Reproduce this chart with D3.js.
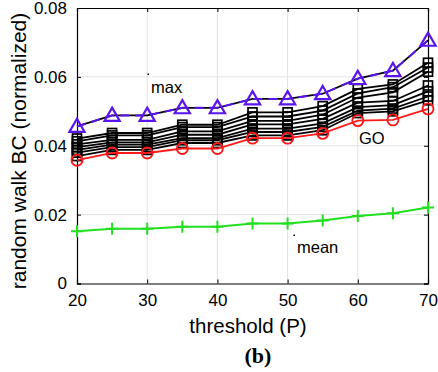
<!DOCTYPE html>
<html>
<head>
<meta charset="utf-8">
<script src="https://cdn.jsdelivr.net/npm/d3@7"></script>
<style>
  html, body { margin: 0; padding: 0; background: #fff; }
  svg { display: block; }
</style>
</head>
<body>
<svg id="chart" width="438" height="372"></svg>
<script>
// threshold values on the x axis
const thresholds = [20, 25, 30, 35, 40, 45, 50, 55, 60, 65, 70];

// maximum over all runs (triangles)
const maxSeries = [0.0456, 0.0488, 0.0488, 0.0510, 0.0510, 0.0536, 0.0536, 0.0551, 0.0595, 0.0618, 0.0706];
// GO ordering (circles)
const goSeries = [0.0358, 0.0379, 0.0379, 0.0392, 0.0392, 0.0422, 0.0422, 0.0436, 0.0473, 0.0475, 0.0507];
// mean over all runs (plus markers)
const meanSeries = [0.0152, 0.0159, 0.0159, 0.0165, 0.0165, 0.0174, 0.0174, 0.0183, 0.0196, 0.0204, 0.0221];
// individual orderings (squares)
const runA = [0.0421, 0.0437, 0.0437, 0.0461, 0.0461, 0.0497, 0.0497, 0.0515, 0.0565, 0.0578, 0.0641];
const runB = [0.0413, 0.0430, 0.0430, 0.0454, 0.0454, 0.0485, 0.0485, 0.0502, 0.0552, 0.0570, 0.0627];
const runC = [0.0404, 0.0417, 0.0417, 0.0442, 0.0442, 0.0472, 0.0472, 0.0490, 0.0540, 0.0555, 0.0615];
const runD = [0.0396, 0.0410, 0.0410, 0.0432, 0.0432, 0.0462, 0.0462, 0.0478, 0.0525, 0.0530, 0.0575];
const runE = [0.0388, 0.0403, 0.0403, 0.0422, 0.0422, 0.0450, 0.0450, 0.0465, 0.0512, 0.0518, 0.0558];
const runF = [0.0380, 0.0396, 0.0396, 0.0416, 0.0416, 0.0440, 0.0440, 0.0455, 0.0502, 0.0508, 0.0543];
const runG = [0.0370, 0.0388, 0.0388, 0.0408, 0.0408, 0.0430, 0.0430, 0.0445, 0.0495, 0.0500, 0.0532];
const squareRuns = [runA, runB, runC, runD, runE, runF, runG];

const xTicks = [20, 30, 40, 50, 60, 70];
const yTicks = [0, 0.02, 0.04, 0.06, 0.08];
const yTickLabels = ["0", "0.02", "0.04", "0.06", "0.08"];

const svg = d3.select("#chart");
const plotLeft = 77, plotRight = 428, plotTop = 8, plotBottom = 283.5;

const x = d3.scaleLinear().domain([20, 70]).range([plotLeft, plotRight]);
const y = d3.scaleLinear().domain([0, 0.08]).range([plotBottom, plotTop]);

const font = "'Liberation Sans', Arial, Helvetica, sans-serif";

// grid
const grid = svg.append("g").attr("stroke", "#e3e3e3").attr("stroke-width", 1);
xTicks.slice(1, -1).forEach(t => {
  grid.append("line").attr("x1", x(t)).attr("x2", x(t)).attr("y1", plotTop).attr("y2", plotBottom);
});
yTicks.slice(1, -1).forEach(t => {
  grid.append("line").attr("x1", plotLeft).attr("x2", plotRight).attr("y1", y(t)).attr("y2", y(t));
});

// axes with inward ticks
const tickLen = 4;
const xAxis = d3.axisBottom(x).tickValues(xTicks).tickSize(-tickLen).tickPadding(10).tickFormat(d3.format("d"));
const yAxis = d3.axisLeft(y).tickValues(yTicks).tickSize(-tickLen).tickPadding(10)
  .tickFormat((d, i) => yTickLabels[i]);

const gx = svg.append("g").attr("transform", `translate(0,${plotBottom})`).call(xAxis);
const gy = svg.append("g").attr("transform", `translate(${plotLeft},0)`).call(yAxis);
const gxTop = svg.append("g").attr("transform", `translate(0,${plotTop})`)
  .call(d3.axisTop(x).tickValues(xTicks).tickSize(-tickLen).tickFormat(""));
const gyRight = svg.append("g").attr("transform", `translate(${plotRight},0)`)
  .call(d3.axisRight(y).tickValues(yTicks).tickSize(-tickLen).tickFormat(""));

[gx, gy, gxTop, gyRight].forEach(g => {
  g.selectAll("path").attr("stroke", "#000").attr("stroke-width", 1.2);
  g.selectAll("line").attr("stroke", "#000");
  g.selectAll("text").attr("font-family", font).attr("font-size", 17).attr("fill", "#000");
});

const line = d3.line().x((d, i) => x(thresholds[i])).y(d => y(d));

// square runs
squareRuns.forEach(run => {
  svg.append("path").datum(run).attr("d", line)
    .attr("fill", "none").attr("stroke", "#000").attr("stroke-width", 1.8);
});
const sq = 9;
squareRuns.forEach(run => {
  svg.append("g").selectAll("rect").data(run).join("rect")
    .attr("x", (d, i) => x(thresholds[i]) - sq / 2)
    .attr("y", d => y(d) - sq / 2)
    .attr("width", sq).attr("height", sq)
    .attr("fill", "none").attr("stroke", "#000").attr("stroke-width", 1.7);
});

// max: black solid under violet dashes
svg.append("path").datum(maxSeries).attr("d", line)
  .attr("fill", "none").attr("stroke", "#000").attr("stroke-width", 1.8);
svg.append("path").datum(maxSeries).attr("d", line)
  .attr("fill", "none").attr("stroke", "#5a14f0").attr("stroke-width", 2)
  .attr("stroke-dasharray", "9,6");
const tri = d3.symbol().type(d3.symbolTriangle).size(100);
svg.append("g").selectAll("path").data(maxSeries).join("path")
  .attr("d", tri)
  .attr("transform", (d, i) => `translate(${x(thresholds[i])},${y(d) + 1})`)
  .attr("fill", "none").attr("stroke", "#5a14f0").attr("stroke-width", 2.2);

// GO
svg.append("path").datum(goSeries).attr("d", line)
  .attr("fill", "none").attr("stroke", "#ff1a1a").attr("stroke-width", 1.8);
svg.append("g").selectAll("circle").data(goSeries).join("circle")
  .attr("cx", (d, i) => x(thresholds[i])).attr("cy", d => y(d)).attr("r", 5.5)
  .attr("fill", "none").attr("stroke", "#ff1a1a").attr("stroke-width", 1.9);

// mean
svg.append("path").datum(meanSeries).attr("d", line)
  .attr("fill", "none").attr("stroke", "#22e01f").attr("stroke-width", 2);
const plus = 6;
svg.append("g").selectAll("path").data(meanSeries).join("path")
  .attr("d", (d, i) => {
    const cx = x(thresholds[i]), cy = y(d);
    return `M${cx - plus},${cy}H${cx + plus}M${cx},${cy - plus}V${cy + plus}`;
  })
  .attr("fill", "none").attr("stroke", "#22e01f").attr("stroke-width", 2);

// annotations
const notes = svg.append("g").attr("font-family", font).attr("font-size", 16.5).attr("fill", "#000");
notes.append("text").attr("x", 151).attr("y", 93).text("max");
notes.append("text").attr("x", 359).attr("y", 144).text("GO");
notes.append("text").attr("x", 297).attr("y", 253).text("mean");
svg.append("rect").attr("x", 147.5).attr("y", 73.5).attr("width", 1.5).attr("height", 1.5).attr("fill", "#000");
svg.append("rect").attr("x", 293.5).attr("y", 234.5).attr("width", 1.5).attr("height", 1.5).attr("fill", "#000");

// axis titles
svg.append("text").attr("x", 248).attr("y", 333).attr("text-anchor", "middle")
  .attr("font-family", font).attr("font-size", 20.5).text("threshold (P)");
svg.append("text").attr("transform", "translate(26,151) rotate(-90)").attr("text-anchor", "middle")
  .attr("font-family", font).attr("font-size", 21).text("random walk BC (normalized)");
svg.append("text").attr("x", 258).attr("y", 363).attr("text-anchor", "middle")
  .attr("font-family", "'Liberation Serif', 'Times New Roman', serif").attr("font-weight", "bold")
  .attr("font-size", 22).text("(b)");
</script>
</body>
</html>
